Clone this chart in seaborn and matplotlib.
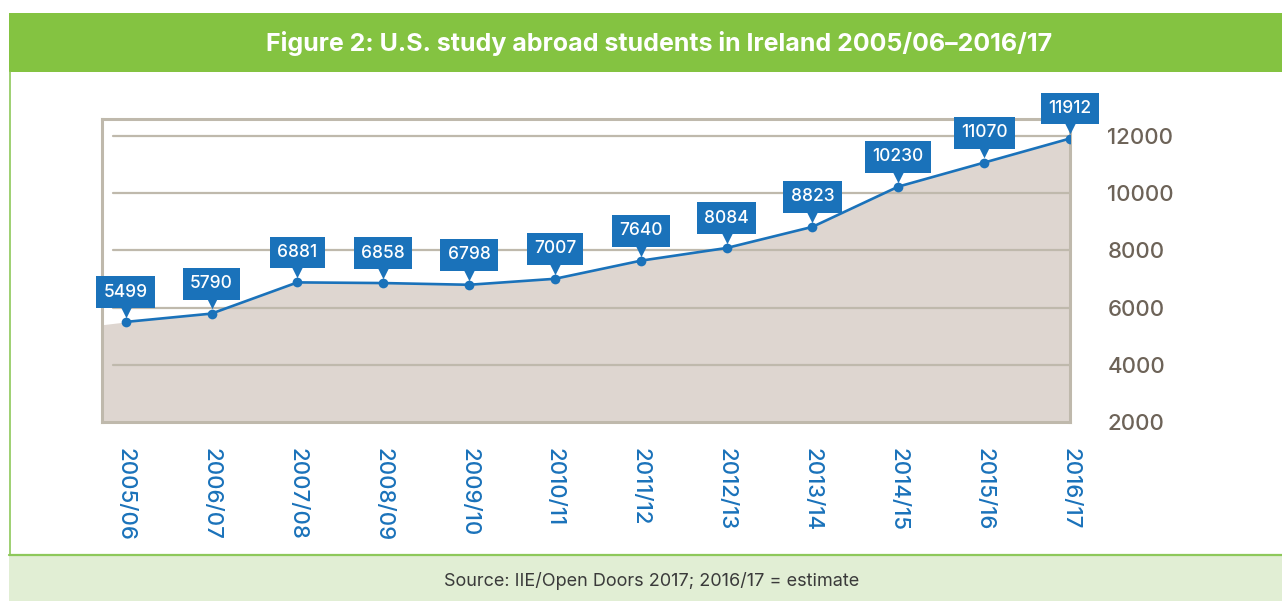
import matplotlib.pyplot as plt
import matplotlib.transforms as mtransforms
from matplotlib.patches import Rectangle
from matplotlib.lines import Line2D
import pandas as pd
import seaborn as sns

# data
years = ['2005/06', '2006/07', '2007/08', '2008/09', '2009/10', '2010/11',
         '2011/12', '2012/13', '2013/14', '2014/15', '2015/16', '2016/17']
students = [5499, 5790, 6881, 6858, 6798, 7007, 7640, 8084, 8823, 10230, 11070, 11912]
fill_left_edge = 5400  # where the shaded area meets the left frame
y_ticks = [2000, 4000, 6000, 8000, 10000, 12000]

title = 'Figure 2: U.S. study abroad students in Ireland 2005/06\u20132016/17'
source = 'Source: IIE/Open Doors 2017; 2016/17 = estimate'

GREEN = '#84c341'
PALE_GREEN = '#e1eed4'
BLUE = '#1a72ba'
FILL = '#ded6d0'
FRAME = '#bfb9ac'
TICK_GREY = '#6d6358'

sns.set_theme(style='white')
plt.rcParams['font.family'] = ['Inter', 'DejaVu Sans']

df = pd.DataFrame({'pos': range(len(years)), 'year': years, 'students': students})

W, H = 1282, 601
fig = plt.figure(figsize=(W / 100, H / 100), dpi=100)
fig.patch.set_facecolor('white')

# title band, footer band, left rule
fig.patches.append(Rectangle((9 / W, 1 - 72 / H), 1, 59 / H, transform=fig.transFigure,
                             facecolor=GREEN, edgecolor='none', zorder=0))
fig.patches.append(Rectangle((9 / W, 0), 1, 46 / H, transform=fig.transFigure,
                             facecolor=PALE_GREEN, edgecolor='none', zorder=0))
fig.lines.append(Line2D([9 / W, 1], [46 / H, 46 / H], transform=fig.transFigure,
                        color='#8dc85a', lw=1.6))
fig.lines.append(Line2D([9.7 / W, 9.7 / W], [46 / H, 1 - 72 / H], transform=fig.transFigure,
                        color='#8dc85a', lw=1.2))
fig.text(659 / W, 1 - 43 / H, title, color='white', fontsize=18, fontweight='bold',
         ha='center', va='center')
fig.text(652 / W, 1 - 581 / H, source, color='#3a3a3a', fontsize=13,
         ha='center', va='center')

ax = fig.add_axes([102 / W, 1 - 422 / H, (1070 - 102) / W, (422 - 119) / H])
ax.set_facecolor('white')

x_left = -0.276
ax.set_xlim(x_left, len(years) - 1)
ax.set_ylim(2000, 12594)

ax.fill_between([x_left] + list(df['pos']), [fill_left_edge] + students, 2000,
                color=FILL, lw=0, zorder=1)
for t in y_ticks[1:]:
    ax.axhline(t, xmin=0.011, xmax=1, color=FRAME, lw=1.6, zorder=2)

sns.lineplot(data=df, x='pos', y='students', ax=ax, color=BLUE, lw=1.9,
             marker='o', markersize=7, markeredgewidth=0, zorder=4)

# callout boxes with a pointer
tri = mtransforms.offset_copy(ax.transData, fig=fig, x=0, y=8, units='points')
ax.scatter(df['pos'], df['students'], marker='v', s=95, color=BLUE, lw=0,
           transform=tri, zorder=5, clip_on=False)
for p, v in zip(df['pos'], df['students']):
    ax.annotate(f'{v}', (p, v), xytext=(0, 21.5), textcoords='offset points',
                ha='center', va='center', color='white', fontsize=12.5,
                fontweight='medium', zorder=6, annotation_clip=False,
                bbox=dict(boxstyle='square,pad=0.42', fc=BLUE, ec='none'))

for s in ax.spines.values():
    s.set_color(FRAME)
    s.set_linewidth(2.2)

ax.yaxis.tick_right()
ax.set_yticks(y_ticks)
ax.set_yticklabels([str(t) for t in y_ticks], fontsize=16, color=TICK_GREY,
                   fontweight='medium')
ax.tick_params(axis='y', length=0, pad=27)
ax.set_xticks(df['pos'])
ax.set_xticklabels(years, rotation=270, fontsize=16, color=BLUE, fontweight='medium')
ax.tick_params(axis='x', length=0, pad=19)
ax.set_xlabel('')
ax.set_ylabel('')

fig.savefig('out.png', dpi=100)
